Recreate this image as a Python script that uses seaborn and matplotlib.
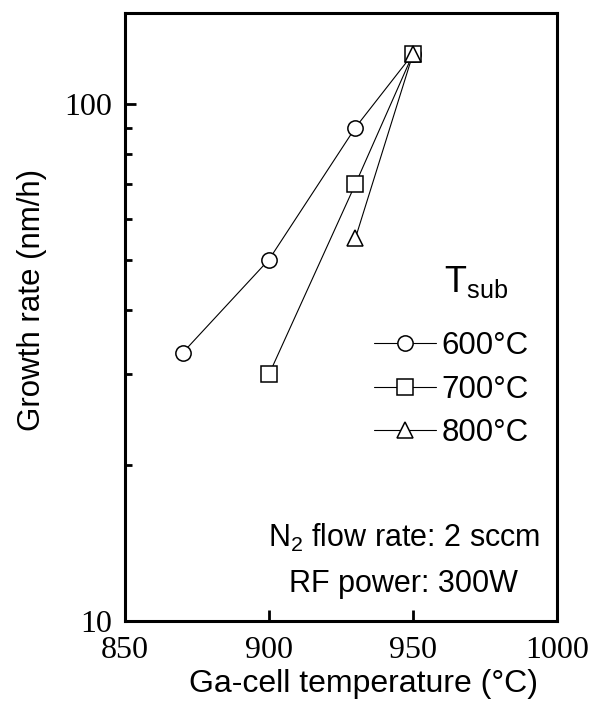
import matplotlib
matplotlib.use('Agg')
import matplotlib.pyplot as plt
import matplotlib.ticker as mticker
import seaborn as sns
import pandas as pd

# ------------------- data -----------------------------------------
temp_600 = [870, 900, 930, 950]
rate_600 = [33, 50, 90, 125]

temp_700 = [900, 930, 950]
rate_700 = [30, 70, 125]

temp_800 = [930, 950]
rate_800 = [55, 125]

series_labels = ['600°C', '700°C', '800°C']

df = pd.concat([
    pd.DataFrame({'T': temp_600, 'rate': rate_600, 'Tsub': series_labels[0]}),
    pd.DataFrame({'T': temp_700, 'rate': rate_700, 'Tsub': series_labels[1]}),
    pd.DataFrame({'T': temp_800, 'rate': rate_800, 'Tsub': series_labels[2]}),
])

# ------------------- figure ---------------------
sns.set_style('white')
plt.rcParams['font.family'] = ['Liberation Sans', 'DejaVu Sans']
plt.rcParams['mathtext.fontset'] = 'custom'
plt.rcParams['mathtext.rm'] = 'Liberation Sans'
plt.rcParams['mathtext.it'] = 'Liberation Sans'
for key in ['text.color', 'axes.labelcolor', 'xtick.color', 'ytick.color']:
    plt.rcParams[key] = 'black'

fig = plt.figure(figsize=(5.95, 7.13), dpi=100)
ax = fig.add_axes([0.2101, 0.129, 0.7261, 0.853])

markers = {'600°C': 'o', '700°C': 's', '800°C': '^'}
sns.lineplot(data=df, x='T', y='rate', style='Tsub', markers=markers, dashes=False,
             color='black', linewidth=0.8, markersize=11,
             markerfacecolor='white', markeredgecolor='black', markeredgewidth=1.1,
             ax=ax, legend=False)

ax.set_yscale('log')
ax.set_xlim(850, 1000)
ax.set_ylim(10, 150)

ax.xaxis.set_major_locator(mticker.FixedLocator([850, 900, 950, 1000]))
ax.yaxis.set_major_locator(mticker.FixedLocator([10, 100]))
ax.yaxis.set_minor_locator(mticker.FixedLocator([20, 30, 40, 50, 60, 70, 80, 90]))
ax.yaxis.set_major_formatter(mticker.FixedFormatter(['10', '100']))
ax.yaxis.set_minor_formatter(mticker.NullFormatter())

ax.tick_params(which='both', direction='in', left=True, bottom=True, top=False, right=False,
               labelsize=23, labelfontfamily='Liberation Serif')
ax.tick_params(which='major', length=8, width=2)
ax.tick_params(which='minor', length=5, width=2)
ax.tick_params(axis='y', which='both', pad=9)
ax.tick_params(axis='x', which='both', pad=11)

for sp in ax.spines.values():
    sp.set_linewidth(2.2)
    sp.set_color('black')

ax.set_xlabel('Ga-cell temperature (°C)', fontsize=23)
ax.set_ylabel('Growth rate (nm/h)', fontsize=22.5)
ax.xaxis.set_label_coords(0.553, -0.079)
ax.yaxis.set_label_coords(-0.18, 0.528)

# legend
handles = ax.get_lines()
leg = ax.legend(handles, series_labels, loc='upper left', bbox_to_anchor=(0.576, 0.477),
                frameon=False, fontsize=22.5, handlelength=2.0, handletextpad=0.16,
                labelspacing=0.44, borderpad=0, borderaxespad=0)
ax.text(0.739, 0.541, 'T$_{\\mathrm{sub}}$', transform=ax.transAxes, fontsize=26,
        ha='left', va='baseline')

ax.text(0.961, 0.122, 'N$_2$ flow rate: 2 sccm', transform=ax.transAxes, fontsize=22,
        ha='right', va='baseline')
ax.text(0.909, 0.048, 'RF power: 300W', transform=ax.transAxes, fontsize=22,
        ha='right', va='baseline')

fig.savefig('out.png', dpi=100)
